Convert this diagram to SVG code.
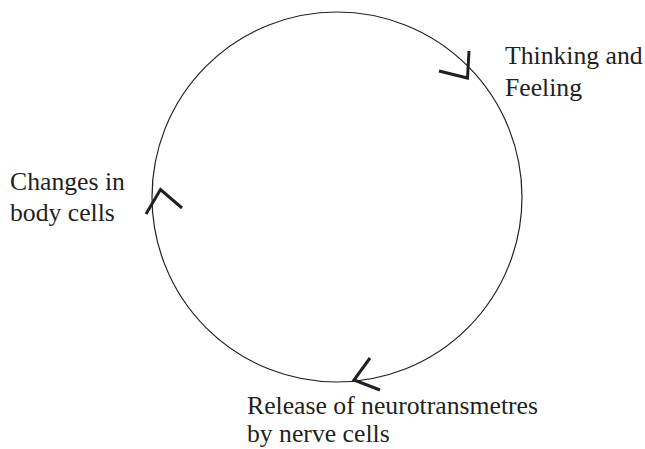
<svg xmlns="http://www.w3.org/2000/svg" width="645" height="449" viewBox="0 0 645 449">
<style>
.t{font-family:"Liberation Serif","Times New Roman",serif;font-size:25.7px;fill:#231f20}
.c{fill:none;stroke:#231f20;stroke-width:1.2}
.a{fill:none;stroke:#231f20;stroke-width:3;stroke-linejoin:miter;stroke-linecap:butt}
</style>
<rect width="645" height="449" fill="#fff"/>
<g id="connectors">
<circle class="c" cx="337" cy="197" r="185"/>
<polyline class="a" points="469,51 467.5,78 439,71"/>
<polyline class="a" points="146,214 160.5,189.5 182,208"/>
<polyline class="a" points="370,358 354,380 380,390"/>
</g>
<g id="thinking"><text class="t" x="505" y="64">Thinking and</text><text class="t" x="505" y="96">Feeling</text></g>
<g id="changes"><text class="t" x="10" y="190">Changes in</text><text class="t" x="10" y="221">body cells</text></g>
<g id="release"><text class="t" x="247" y="414">Release of neurotransmetres</text><text class="t" x="247" y="442">by nerve cells</text></g>
</svg>
